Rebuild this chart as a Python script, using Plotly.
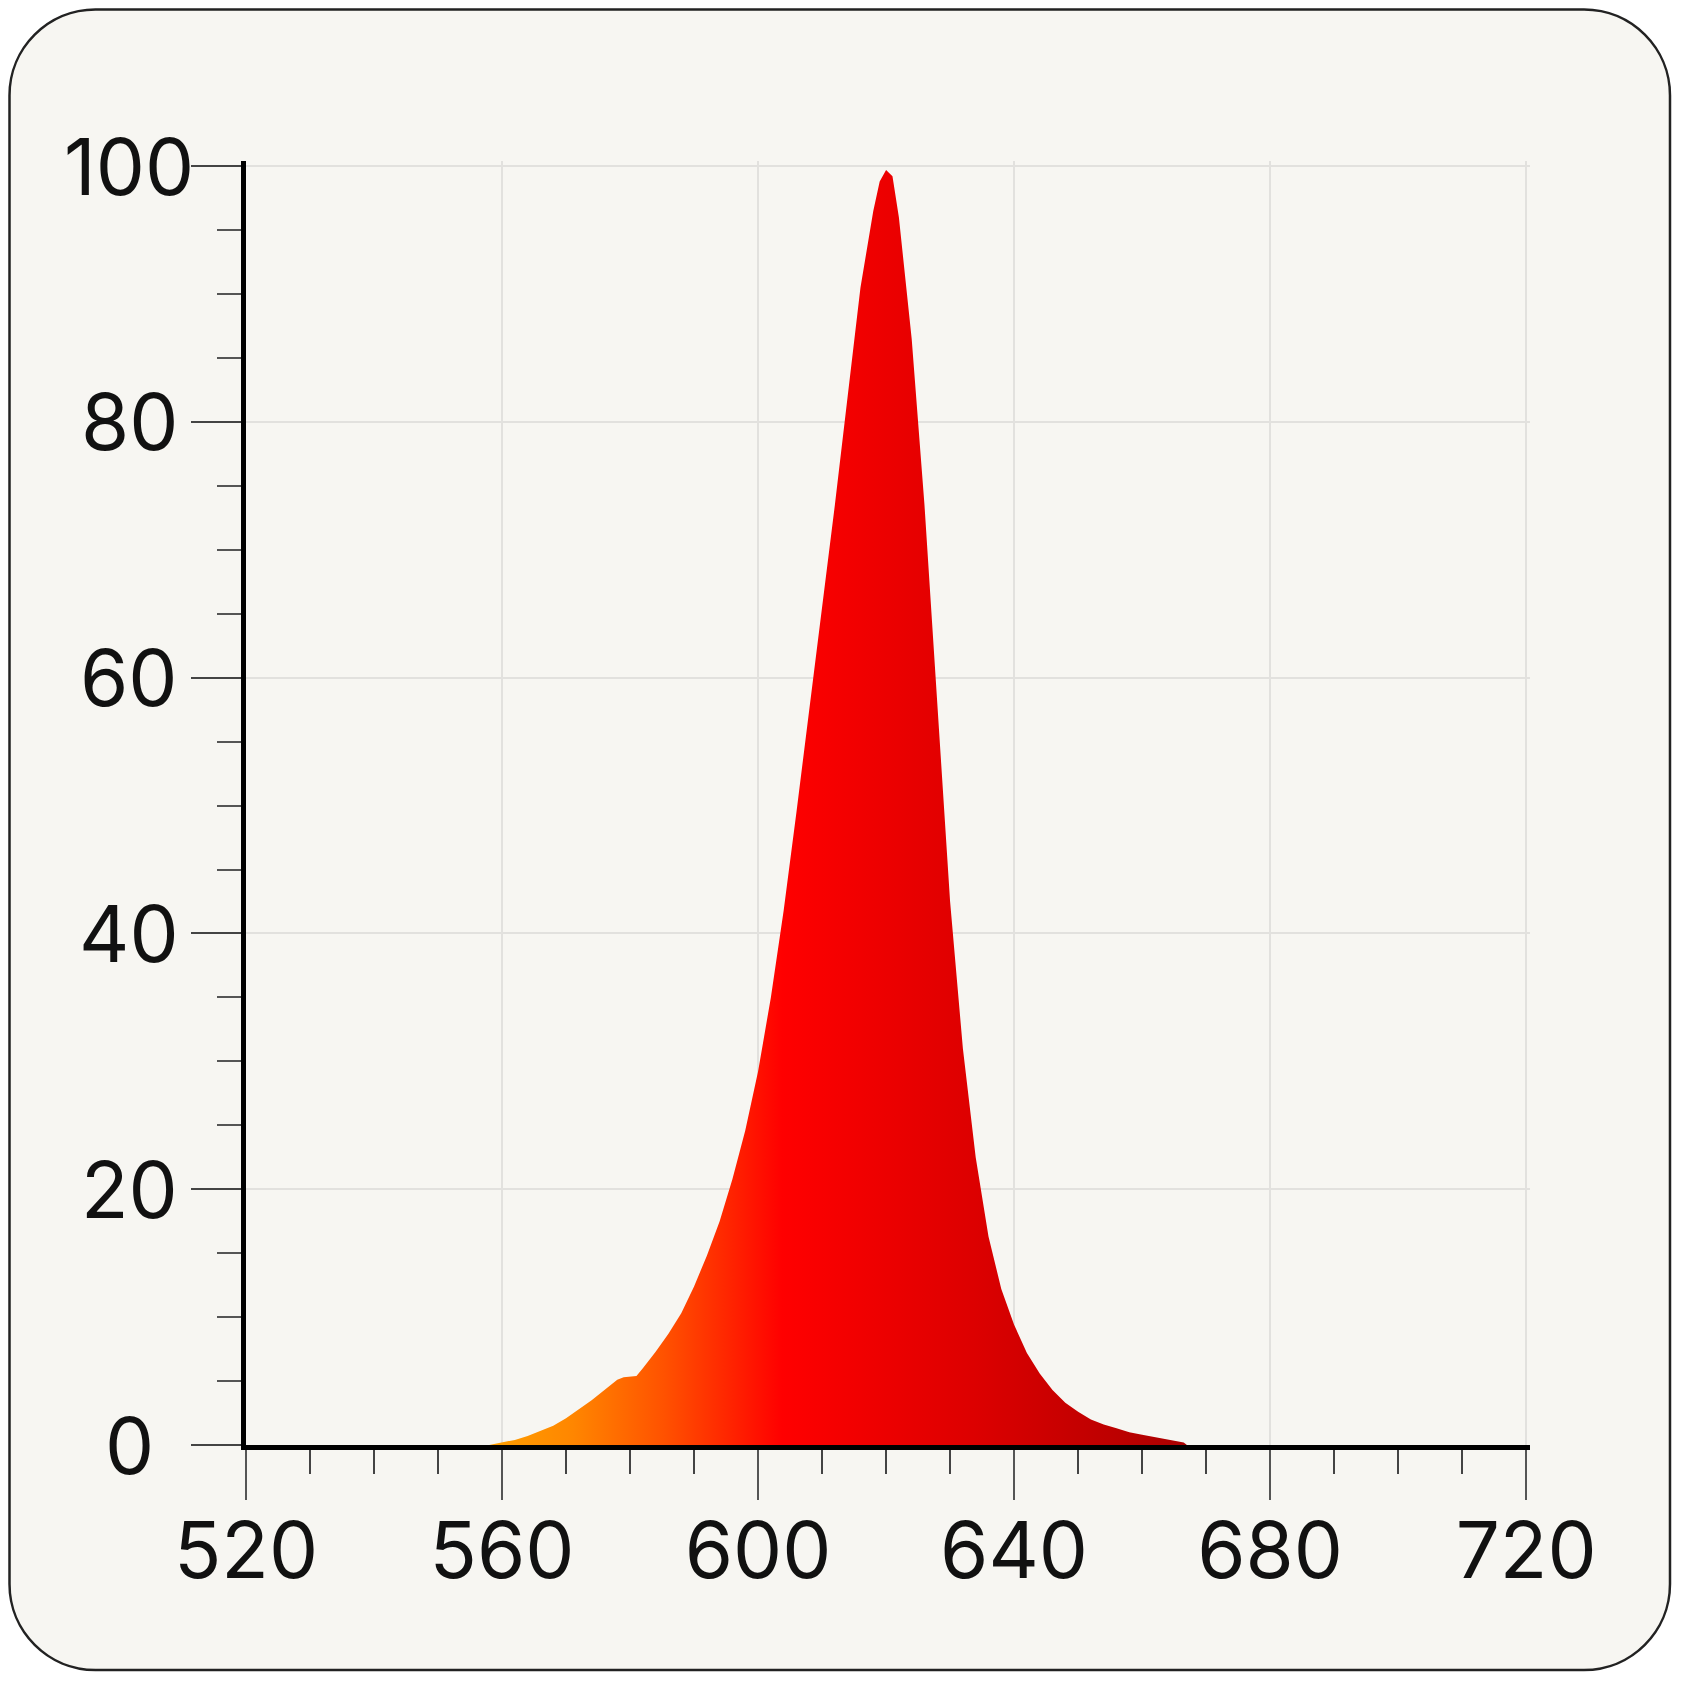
import plotly.graph_objects as go

# spectrum (wavelength nm -> relative intensity %)
wavelength = [558, 560, 562, 564, 566, 568, 570, 572, 574, 576, 578, 579, 581,
              582, 584, 586, 588, 590, 592, 594, 596, 598, 600, 602, 604, 606,
              608, 610, 612, 614, 616, 618, 619, 620, 621, 622, 624, 626, 628,
              630, 632, 634, 636, 638, 640, 642, 644, 646, 648, 650, 652, 654,
              656, 658, 660, 662, 664, 666, 666.5, 667]
intensity = [0, 0.2, 0.4, 0.7, 1.1, 1.5, 2.1, 2.8, 3.5, 4.3, 5.1, 5.3, 5.4,
             6.0, 7.3, 8.7, 10.3, 12.4, 14.8, 17.5, 20.8, 24.6, 29.2, 35.0, 41.8, 49.5,
             57.5, 65.5, 73.5, 82.0, 90.5, 96.5, 98.8, 99.7, 99.2, 96.0, 86.5, 73.5, 58.0,
             42.5, 31.0, 22.5, 16.3, 12.2, 9.4, 7.2, 5.6, 4.3, 3.3, 2.6, 2.0, 1.6,
             1.3, 1.0, 0.8, 0.6, 0.4, 0.25, 0.2, 0]

x_ticks = [520, 560, 600, 640, 680, 720]
y_ticks = [0, 20, 40, 60, 80, 100]

fill_colors = [[0.0, "#ffa000"], [0.12, "#ff8600"], [0.25, "#ff5200"],
               [0.42, "#ff0000"], [0.7, "#dc0000"], [0.9, "#bc0000"], [1.0, "#a80000"]]

# page body adds an 8px margin, so the figure is a bit smaller than the window
W, H = 1681, 1673
L, R, T, B = 238, 159, 153, 236
pw, ph = W - L - R, H - T - B
FONT = "Inter"


def px(x, y):
    # pixel position in the figure -> paper coordinates
    return (x - L) / pw, 1 - (y - T) / ph


def rounded_rect(x0, y0, x1, y1, r):
    k = 0.5523 * r

    def p(x, y):
        a, b = px(x, y)
        return f"{a:.5f},{b:.5f}"

    path = f"M{p(x0 + r, y0)} L{p(x1 - r, y0)} "
    path += f"C{p(x1 - r + k, y0)} {p(x1, y0 + r - k)} {p(x1, y0 + r)} "
    path += f"L{p(x1, y1 - r)} "
    path += f"C{p(x1, y1 - r + k)} {p(x1 - r + k, y1)} {p(x1 - r, y1)} "
    path += f"L{p(x0 + r, y1)} "
    path += f"C{p(x0 + r - k, y1)} {p(x0, y1 - r + k)} {p(x0, y1 - r)} "
    path += f"L{p(x0, y0 + r)} "
    path += f"C{p(x0, y0 + r - k)} {p(x0 + r - k, y0)} {p(x0 + r, y0)} Z"
    return path


fig = go.Figure()
fig.add_trace(go.Scatter(
    x=wavelength,
    y=intensity,
    mode="lines",
    line=dict(width=0, color="#e00000"),
    fill="tozeroy",
    fillgradient=dict(type="horizontal", colorscale=fill_colors,
                      start=min(wavelength), stop=max(wavelength)),
    showlegend=False,
    hoverinfo="skip",
))

# card background with rounded corners
fig.add_shape(type="path", xref="paper", yref="paper", layer="below",
              path=rounded_rect(1.5, 1.5, 1662, 1662, 86),
              fillcolor="#f7f6f2", line=dict(color="#222222", width=2.5))

# y tick labels, centred like the reference
for v in y_ticks:
    fig.add_annotation(x=px(121, 0)[0], xref="paper", y=v, yref="y",
                       text=str(v), showarrow=False, xanchor="center", yanchor="middle",
                       font=dict(family=FONT, size=78, color="#111111"))

fig.update_xaxes(
    range=[520, 720.6], tickvals=x_ticks, ticktext=[str(v) for v in x_ticks],
    showgrid=True, gridcolor="#e2e1de", gridwidth=2, zeroline=False,
    showline=True, linecolor="#000000", linewidth=5,
    ticks="outside", ticklen=50, tickwidth=2, tickcolor="#555555",
    tickfont=dict(family=FONT, size=78, color="#111111"), ticklabelstandoff=-16,
    minor=dict(dtick=10, tick0=520, ticks="outside", ticklen=24, tickwidth=2,
               tickcolor="#444444", showgrid=False),
)
fig.update_yaxes(
    range=[0, 100.4], tickvals=y_ticks, showticklabels=False,
    showgrid=True, gridcolor="#e2e1de", gridwidth=2, zeroline=False,
    showline=True, linecolor="#000000", linewidth=5,
    ticks="outside", ticklen=50, tickwidth=2, tickcolor="#444444",
    minor=dict(dtick=5, tick0=0, ticks="outside", ticklen=24, tickwidth=2,
               tickcolor="#555555", showgrid=False),
)
fig.update_layout(
    width=W, height=H,
    margin=dict(l=L, r=R, t=T, b=B),
    paper_bgcolor="#ffffff",
    plot_bgcolor="rgba(0,0,0,0)",
    font=dict(family=FONT, color="#111111"),
)

fig.write_html("out.html")
